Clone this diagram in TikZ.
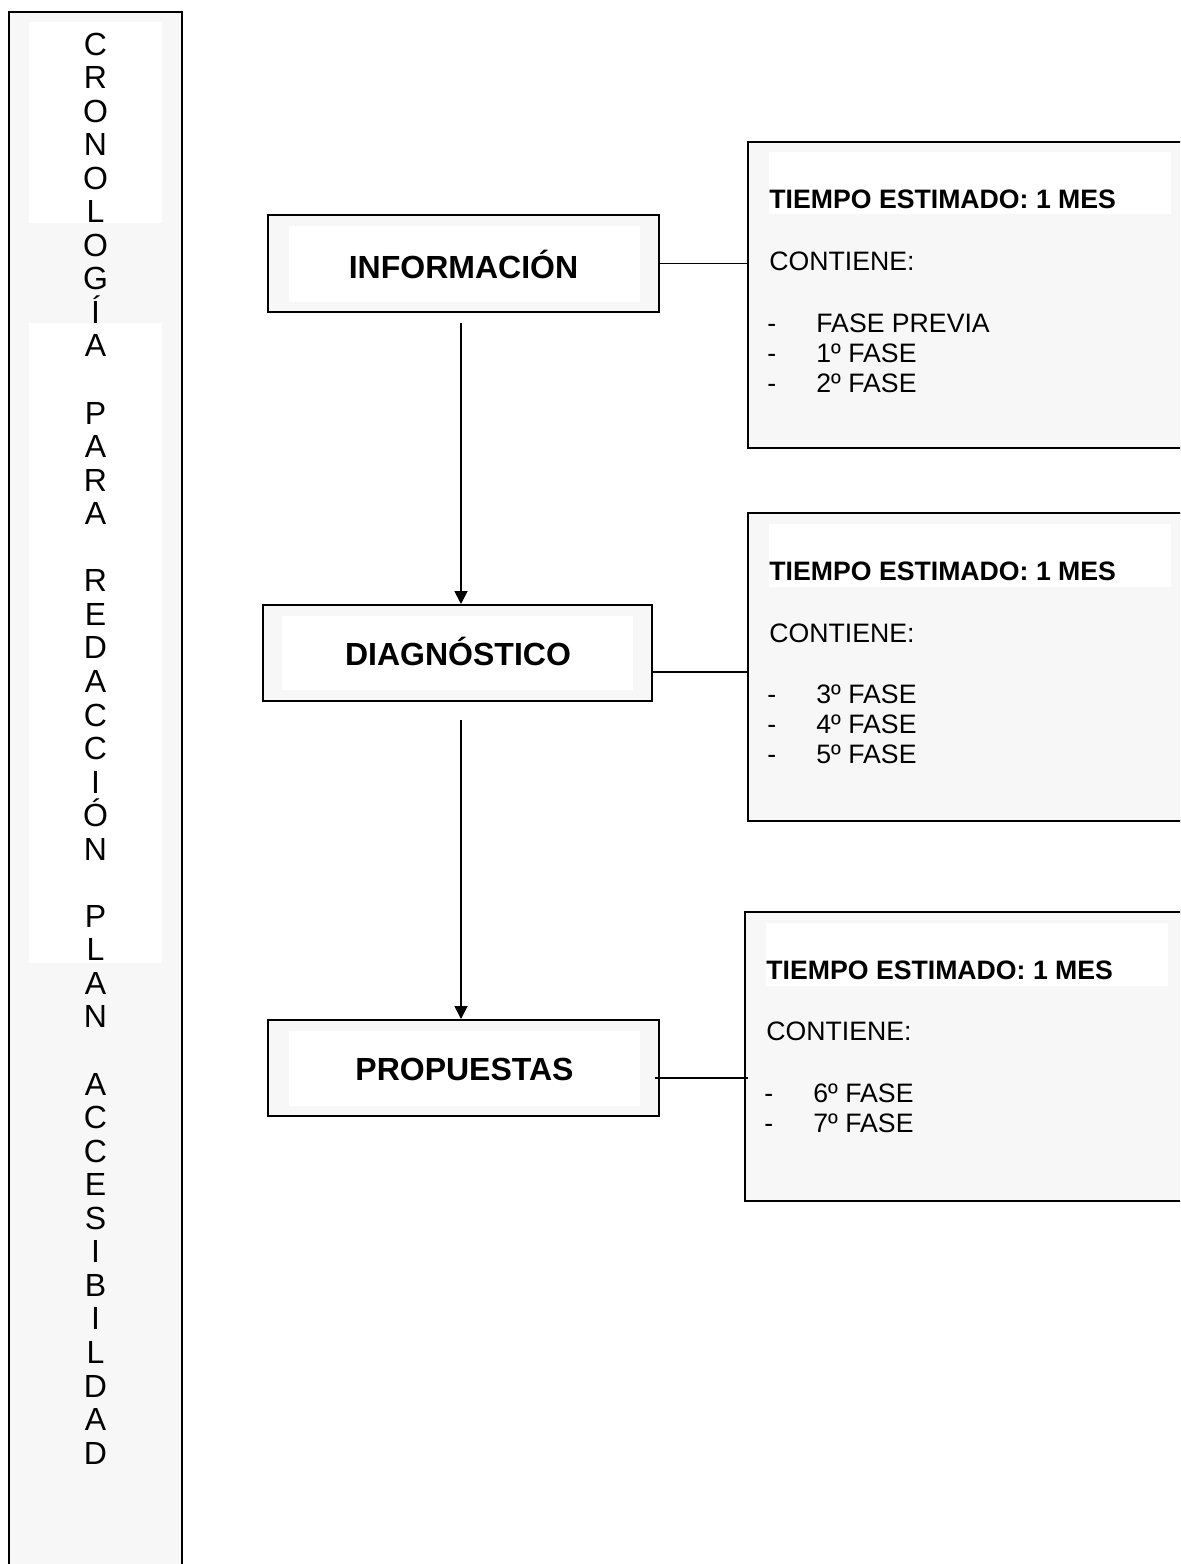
\documentclass[tikz,border=0pt]{standalone}
\usepackage{fontspec}
\setmainfont{Liberation Sans}
\usetikzlibrary{arrows.meta,fit,calc}
\definecolor{boxgray}{HTML}{F7F7F7}
\begin{document}
\begin{tikzpicture}[x=0.5pt,y=-0.5pt,
  frame/.style={draw=black, line width=1pt, fill=boxgray, inner sep=0pt},
  letter/.style={font=\fontsize{16}{16}\selectfont, anchor=base, inner sep=0pt},
  mainlabel/.style={font=\fontsize{16}{19}\selectfont\bfseries, anchor=base, inner sep=0pt},
  rt/.style={font=\fontsize{13.33}{16}\selectfont, anchor=base west, inner sep=0pt},
  rtb/.style={rt, font=\fontsize{13.33}{16}\selectfont\bfseries},
  conn/.style={draw=black, line width=0.9pt},
  arr/.style={conn, -{Triangle[width=6.5pt,length=6.5pt]}}]
\clip (0,0) rectangle (1180,1564);
\fill[white] (0,0) rectangle (1180,1564);

% left vertical title box
\node[frame, fit={(9,12) (182,1620)}] (side) {};
\fill[white] (29,22) rectangle (162,223);
\fill[white] (29,323) rectangle (162,963);
\foreach \i/\l in {0/C,1/R,2/O,3/N,4/O,5/L,6/O,7/G,8/Í,9/A,
  11/P,12/A,13/R,14/A,
  16/R,17/E,18/D,19/A,20/C,21/C,22/I,23/Ó,24/N,
  26/P,27/L,28/A,29/N,
  31/A,32/C,33/C,34/E,35/S,36/I,37/B,38/I,39/L,40/D,41/A,42/D}
  \node[letter] (s\i) at (95.5,{55+33.55*\i}) {\l};

% main boxes
\node[frame, fit={(268,215) (659,312)}] (info) {};
\fill[white] (289,226) rectangle (640,302);
\node[mainlabel] (infot) at (463.5,278) {INFORMACIÓN};

\node[frame, fit={(263,605) (652,701)}] (diag) {};
\fill[white] (282,616) rectangle (633,690);
\node[mainlabel] (diagt) at (458,665) {DIAGNÓSTICO};

\node[frame, fit={(268,1020) (659,1116)}] (prop) {};
\fill[white] (289,1031) rectangle (640,1106);
\node[mainlabel] (propt) at (464.5,1080) {PROPUESTAS};

% right boxes
\node[frame, fit={(748,142) (1200,448)}] (r1) {};
\fill[white] (769,152) rectangle (1171,214);
\node[rtb] (r1t) at (769,208) {TIEMPO ESTIMADO: 1 MES};
\node[rt] (r1c) at (769,270) {CONTIENE:};
\node[rt] (r1d1) at (767,332) {-};
\node[rt] (r1i1) at (816,332) {FASE PREVIA};
\node[rt] (r1d2) at (767,362) {-};
\node[rt] (r1i2) at (816,362) {1º FASE};
\node[rt] (r1d3) at (767,392) {-};
\node[rt] (r1i3) at (816,392) {2º FASE};

\node[frame, fit={(748,513) (1200,821)}] (r2) {};
\fill[white] (769,524) rectangle (1171,587);
\node[rtb] (r2t) at (769,580) {TIEMPO ESTIMADO: 1 MES};
\node[rt] (r2c) at (769,642) {CONTIENE:};
\node[rt] (r2d1) at (767,703) {-};
\node[rt] (r2i1) at (816,703) {3º FASE};
\node[rt] (r2d2) at (767,733) {-};
\node[rt] (r2i2) at (816,733) {4º FASE};
\node[rt] (r2d3) at (767,763) {-};
\node[rt] (r2i3) at (816,763) {5º FASE};

\node[frame, fit={(745,912) (1200,1201)}] (r3) {};
\fill[white] (766,923) rectangle (1168,986);
\node[rtb] (r3t) at (766,979) {TIEMPO ESTIMADO: 1 MES};
\node[rt] (r3c) at (766,1040) {CONTIENE:};
\node[rt] (r3d1) at (764,1102) {-};
\node[rt] (r3i1) at (813,1102) {6º FASE};
\node[rt] (r3d2) at (764,1132) {-};
\node[rt] (r3i2) at (813,1132) {7º FASE};

% connectors
\draw[conn] (info.east) -- (info.east -| r1.west);
\coordinate (d2) at ([yshift=-9.5pt]diag.east);
\draw[conn] (d2) -- (d2 -| r2.west);
\coordinate (d3) at ([xshift=-2.5pt,yshift=-5pt]prop.east);
\coordinate (e3) at (d3 -| r3.west);
\draw[conn] (d3) -- ([xshift=2pt]e3);

% arrows
\coordinate (a1) at (461,323);
\draw[arr] (a1) -- (a1 |- diag.north);
\coordinate (a2) at (461,720);
\draw[arr] (a2) -- (a2 |- prop.north);
\end{tikzpicture}
\end{document}
